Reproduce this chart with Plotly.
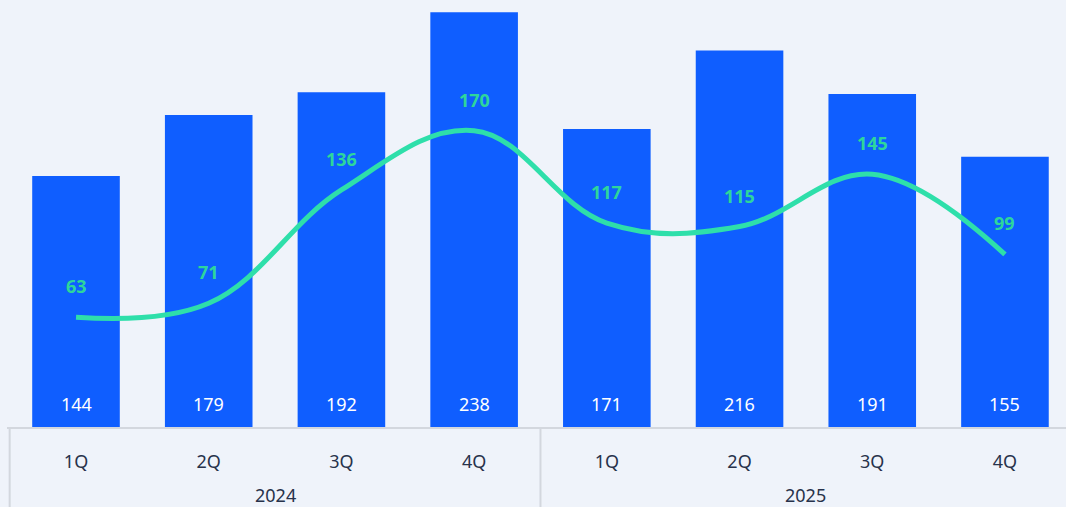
import plotly.graph_objects as go

years = ["2024"] * 4 + ["2025"] * 4
quarters = ["1Q", "2Q", "3Q", "4Q", "1Q", "2Q", "3Q", "4Q"]
bar_values = [144, 179, 192, 238, 171, 216, 191, 155]
line_values = [63, 71, 136, 170, 117, 115, 145, 99]

BLUE = "#0F5EFF"
GREEN = "#2EDFAA"
LABEL_GREEN = "#2ED69B"
BG = "#EFF3FA"
AXIS = "#D3D7DE"
TEXT = "#27324B"
FONT = "Noto Sans, Open Sans, sans-serif"

idx = list(range(len(quarters)))

fig = go.Figure()
fig.add_trace(go.Bar(
    x=idx, y=bar_values, marker=dict(color=BLUE, line=dict(width=0)),
    width=0.66, hoverinfo="skip",
))
fig.add_trace(go.Scatter(
    x=idx, y=line_values, mode="lines",
    line=dict(color=GREEN, width=5, shape="spline", smoothing=1.1),
    hoverinfo="skip",
))

annotations = []
for i, (b, l) in enumerate(zip(bar_values, line_values)):
    annotations.append(dict(
        x=i, y=0, xref="x", yref="y", text=str(b), showarrow=False,
        yanchor="middle", yshift=23,
        font=dict(color="white", size=18, family=FONT),
    ))
    annotations.append(dict(
        x=i, y=l, xref="x", yref="y", text="<b>%d</b>" % l, showarrow=False,
        yanchor="middle", yshift=31,
        font=dict(color=LABEL_GREEN, size=18, family=FONT),
    ))

# year group labels and dividers
groups = []
for i, y in enumerate(years):
    if not groups or groups[-1][0] != y:
        groups.append([y, i, i])
    else:
        groups[-1][2] = i

shapes = []
for name, start, end in groups:
    annotations.append(dict(
        x=(start + end) / 2, y=0, xref="x", yref="paper", text=name,
        showarrow=False, yanchor="middle", yshift=-68,
        font=dict(color=TEXT, size=18, family=FONT),
    ))
    shapes.append(dict(
        type="line", xref="x", yref="paper", x0=start - 0.5, x1=start - 0.5,
        y0=0, y1=-0.25, line=dict(color=AXIS, width=2), layer="above",
    ))

fig.update_layout(
    width=1066, height=507,
    margin=dict(l=7, r=0, t=0, b=80),
    paper_bgcolor=BG, plot_bgcolor=BG,
    showlegend=False,
    annotations=annotations,
    shapes=shapes,
    font=dict(family=FONT, size=18, color=TEXT),
    xaxis=dict(
        range=[-0.52, 7.46],
        tickmode="array", tickvals=idx, ticktext=quarters,
        ticks="outside", ticklen=17, tickcolor="rgba(0,0,0,0)",
        showline=True, linecolor=AXIS, linewidth=2,
        tickfont=dict(size=18, color=TEXT, family=FONT),
        showgrid=False, zeroline=False,
    ),
    yaxis=dict(range=[0, 245], visible=False, showgrid=False, zeroline=False),
)

fig.write_html("out.html")
